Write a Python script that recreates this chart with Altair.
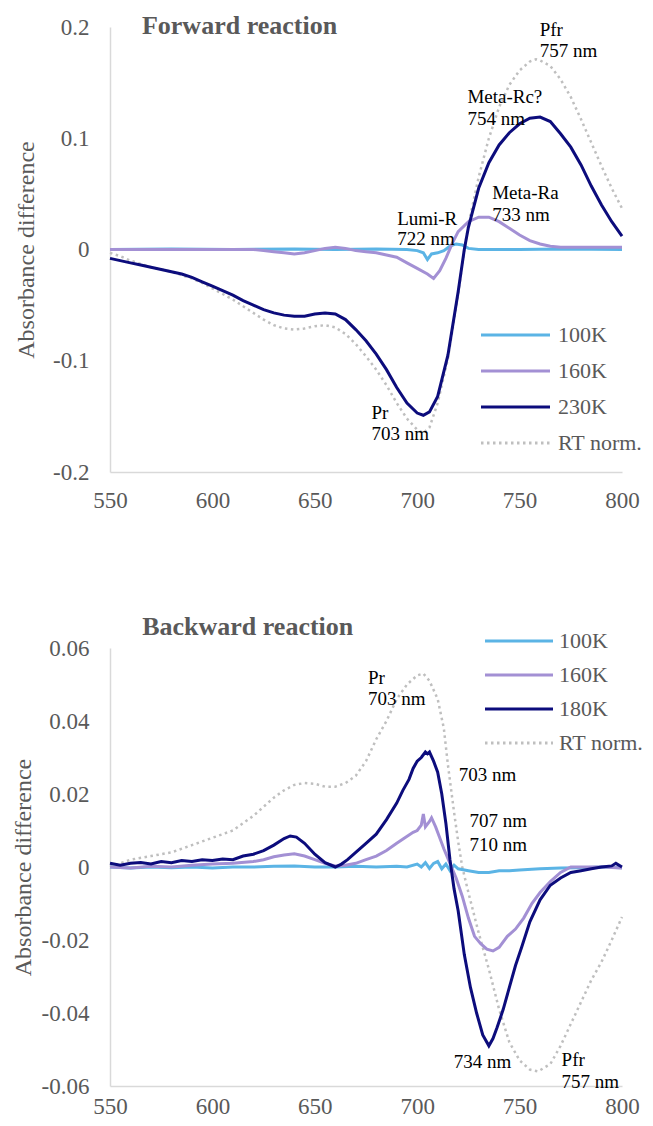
import altair as alt
import pandas as pd

FONT = "Liberation Serif"
GREY = "#595959"
COLORS = ["#5bb4e5", "#a390d4", "#0c0c7c", "#bfbfbf"]
X_TICKS = [550, 600, 650, 700, 750, 800]

# ---------------- Forward reaction ----------------
fw_names = ["100K", "160K", "230K", "RT norm."]

fw_100K_nm = [550, 580, 610, 640, 660, 680, 695, 700, 703, 705, 707, 710, 713, 716, 719, 722, 725, 730, 750, 770, 800]
fw_100K_val = [0.0, 0.0005, 0.0, 0.0005, 0.0, 0.0005, 0.0, -0.001, -0.003, -0.009, -0.004, -0.003, -0.001, 0.003,
               0.005, 0.004, 0.001, 0.0, 0.0, 0.0005, 0.0]

fw_160K_nm = [550, 580, 610, 620, 625, 630, 635, 640, 645, 650, 655, 660, 665, 670, 675, 680, 685, 690, 695, 700,
              705, 708, 711, 714, 717, 720, 725, 730, 735, 740, 745, 750, 755, 760, 765, 770, 780, 790, 800]
fw_160K_val = [0.0, 0.0, 0.0, 0.0, -0.001, -0.002, -0.003, -0.004, -0.003, -0.001, 0.001, 0.002, 0.001, -0.001,
               -0.002, -0.003, -0.005, -0.007, -0.012, -0.017, -0.022, -0.026, -0.019, -0.008, 0.005, 0.016,
               0.025, 0.029, 0.029, 0.025, 0.019, 0.013, 0.008, 0.005, 0.003, 0.002, 0.002, 0.002, 0.002]

fw_230K_nm = [550, 555, 560, 565, 570, 575, 580, 585, 590, 595, 600, 605, 610, 615, 620, 625, 630, 635, 640, 645,
              650, 655, 660, 665, 670, 675, 680, 685, 690, 695, 700, 703, 706, 710, 715, 720, 723, 725, 730, 735,
              740, 745, 750, 755, 760, 765, 770, 775, 780, 785, 790, 795, 800]
fw_230K_val = [-0.008, -0.010, -0.012, -0.014, -0.016, -0.018, -0.020, -0.022, -0.025, -0.029, -0.033, -0.037,
               -0.041, -0.046, -0.050, -0.054, -0.057, -0.059, -0.060, -0.060, -0.058, -0.057, -0.058, -0.063,
               -0.072, -0.082, -0.094, -0.108, -0.124, -0.138, -0.147, -0.149, -0.146, -0.132, -0.095, -0.038,
               0.000, 0.020, 0.055, 0.078, 0.094, 0.105, 0.113, 0.118, 0.119, 0.115, 0.104, 0.092, 0.076, 0.057,
               0.040, 0.025, 0.012]

fw_RT_nm = [550, 555, 560, 565, 570, 575, 580, 585, 590, 595, 600, 605, 610, 615, 620, 625, 630, 635, 640, 645,
            650, 655, 660, 665, 670, 675, 680, 685, 690, 695, 700, 703, 706, 710, 715, 720, 723, 725, 730, 735,
            740, 745, 750, 755, 758, 760, 765, 770, 775, 780, 785, 790, 795, 800]
fw_RT_val = [-0.003, -0.006, -0.010, -0.013, -0.016, -0.018, -0.020, -0.023, -0.026, -0.030, -0.035, -0.040,
             -0.045, -0.051, -0.057, -0.063, -0.068, -0.071, -0.072, -0.071, -0.069, -0.068, -0.070, -0.076,
             -0.085, -0.096, -0.108, -0.122, -0.138, -0.152, -0.162, -0.165, -0.160, -0.138, -0.098, -0.040,
             0.000, 0.022, 0.065, 0.100, 0.128, 0.148, 0.161, 0.169, 0.171, 0.170, 0.165, 0.153, 0.137, 0.117,
             0.096, 0.075, 0.055, 0.037]

fw_ann_text = ["Pfr", "757 nm", "Meta-Rc?", "754 nm", "Meta-Ra", "733 nm", "Lumi-R", "722 nm", "Pr", "703 nm"]
fw_ann_nm = [759.8, 759.8, 724.5, 724.5, 736.6, 736.6, 690.2, 690.2, 677.7, 677.7]
fw_ann_val = [0.1975, 0.1786, 0.1371, 0.1177, 0.0508, 0.0314, 0.0278, 0.0092, -0.147, -0.1655]

# ---------------- Backward reaction ----------------
bw_names = ["100K", "160K", "180K", "RT norm."]

bw_100K_nm = [550, 560, 570, 580, 590, 600, 610, 620, 630, 640, 650, 660, 670, 680, 690, 695, 700, 702, 704, 706,
              708, 710, 712, 714, 716, 718, 720, 725, 730, 735, 740, 745, 750, 760, 770, 780, 790, 800]
bw_100K_val = [0.0, -0.0003, 0.0, -0.0002, 0.0, -0.0003, 0.0, 0.0, 0.0002, 0.0003, 0.0, 0.0, 0.0002, 0.0,
               0.0002, 0.0, 0.0008, 0.0, 0.0012, -0.0004, 0.001, 0.0015, -0.0005, 0.0008, -0.001, 0.0005,
               -0.0005, -0.001, -0.0015, -0.0015, -0.001, -0.001, -0.0008, -0.0005, -0.0003, -0.0002, 0.0, -0.0002]

bw_160K_nm = [550, 560, 570, 580, 590, 600, 610, 620, 625, 630, 635, 640, 645, 650, 655, 660, 665, 670, 675, 680,
              685, 690, 694, 698, 700, 702, 703, 704, 706, 707, 709, 711, 713, 716, 719, 722, 725, 728, 731, 734,
              737, 740, 744, 748, 752, 756, 760, 765, 770, 775, 780, 790, 800]
bw_160K_val = [0.0, -0.0003, 0.0002, 0.0, 0.0005, 0.0008, 0.001, 0.0015, 0.002, 0.0028, 0.0033, 0.0036, 0.003,
               0.002, 0.001, 0.0003, 0.0005, 0.001, 0.002, 0.003, 0.0045, 0.0065, 0.008, 0.0095, 0.010, 0.0115,
               0.0145, 0.011, 0.0125, 0.0135, 0.011, 0.008, 0.005, 0.001, -0.003, -0.008, -0.014, -0.019, -0.021,
               -0.0225, -0.023, -0.022, -0.019, -0.017, -0.014, -0.010, -0.007, -0.004, -0.0015, 0.0, 0.0, 0.0,
               -0.0003]

bw_180K_nm = [550, 555, 560, 565, 570, 575, 580, 585, 590, 595, 600, 605, 610, 615, 620, 625, 630, 635, 638, 641,
              645, 650, 655, 660, 663, 666, 670, 675, 680, 685, 690, 693, 696, 698, 700, 702, 704, 705, 706, 708,
              710, 712, 714, 716, 718, 720, 723, 726, 729, 732, 735, 737, 739, 742, 745, 748, 751, 755, 760, 765,
              770, 775, 780, 785, 790, 795, 797, 800]
bw_180K_val = [0.001, 0.0005, 0.001, 0.0012, 0.0008, 0.0015, 0.0012, 0.0018, 0.0015, 0.002, 0.0018, 0.0022,
               0.002, 0.003, 0.0035, 0.0045, 0.006, 0.0078, 0.0085, 0.0082, 0.0065, 0.0035, 0.0012, 0.0, 0.0008,
               0.002, 0.004, 0.0065, 0.009, 0.013, 0.0175, 0.021, 0.024, 0.027, 0.029, 0.030, 0.0315, 0.031,
               0.0315, 0.029, 0.026, 0.020, 0.012, 0.002, -0.006, -0.012, -0.024, -0.033, -0.040, -0.046, -0.049,
               -0.047, -0.044, -0.039, -0.033, -0.027, -0.022, -0.015, -0.009, -0.005, -0.003, -0.0015, -0.001,
               -0.0005, 0.0, 0.0003, 0.001, 0.0]

bw_RT_nm = [550, 560, 570, 580, 590, 600, 610, 620, 630, 635, 640, 645, 650, 655, 660, 665, 670, 675, 680, 685,
            690, 695, 700, 703, 706, 710, 713, 715, 718, 720, 722, 725, 730, 735, 740, 745, 750, 755, 759, 765,
            770, 775, 780, 785, 790, 795, 800]
bw_RT_val = [0.0, 0.002, 0.003, 0.004, 0.006, 0.008, 0.010, 0.014, 0.019, 0.021, 0.0225, 0.023, 0.0228, 0.022,
             0.022, 0.023, 0.025, 0.029, 0.035, 0.040, 0.046, 0.050, 0.0525, 0.053, 0.051, 0.046, 0.038, 0.028,
             0.015, 0.007, 0.0, -0.007, -0.018, -0.028, -0.039, -0.048, -0.053, -0.0555, -0.056, -0.054, -0.049,
             -0.043, -0.037, -0.031, -0.026, -0.020, -0.0137]

bw_ann_text = ["Pr", "703 nm", "703 nm", "707 nm", "710 nm", "734 nm", "Pfr", "757 nm"]
bw_ann_nm = [676.0, 676.0, 720.3, 725.5, 725.5, 717.8, 770.5, 770.5]
bw_ann_val = [0.0518, 0.046, 0.0253, 0.0125, 0.0059, -0.0534, -0.053, -0.0589]


def long_table(names, nms, vals):
    rows = []
    for name, xs, ys in zip(names, nms, vals):
        for x, y in zip(xs, ys):
            rows.append({"series": name, "nm": x, "value": y})
    return pd.DataFrame(rows)


def panel(names, nms, vals, ydom, yticks, ndec, height, title, title_nm, title_val,
          ann_text, ann_nm, ann_val, leg_x, leg_range, title_pad, xlab_pad):
    solid = long_table(names[:3], nms[:3], vals[:3])
    dotted = long_table(names[3:], nms[3:], vals[3:])

    label_expr = (f"datum.value == 0 ? '0' : (datum.value < 0 ? '-' + format(-datum.value, '.{ndec}f')"
                  f" : format(datum.value, '.{ndec}f'))")
    xenc = alt.X("nm:Q", scale=alt.Scale(domain=[550, 800], nice=False, zero=False),
                 axis=alt.Axis(values=X_TICKS, title=None, labelPadding=xlab_pad, labelFlush=False,
                               labelOverlap=False, labelFont=FONT, labelFontSize=23, labelColor=GREY))
    yenc = alt.Y("value:Q", scale=alt.Scale(domain=ydom, nice=False, zero=False),
                 axis=alt.Axis(values=yticks, title="Absorbance difference", labelExpr=label_expr,
                               labelPadding=21, titlePadding=title_pad, labelOverlap=False,
                               labelFont=FONT, labelFontSize=23, labelColor=GREY,
                               titleFont=FONT, titleFontSize=24, titleColor=GREY,
                               titleFontWeight="normal"))
    color = alt.Color("series:N", scale=alt.Scale(domain=names, range=COLORS), legend=None)

    dotted_layer = alt.Chart(dotted).mark_line(
        color=COLORS[3], strokeWidth=2.5, strokeDash=[2.5, 3.5]).encode(x=xenc, y=yenc)
    solid_layer = alt.Chart(solid).mark_line(strokeWidth=3).encode(x=xenc, y=yenc, color=color)

    ann = pd.DataFrame({"nm": ann_nm, "value": ann_val, "label": ann_text})
    ann_layer = alt.Chart(ann).mark_text(
        align="left", baseline="middle", font=FONT, fontSize=19, color="black"
    ).encode(x="nm:Q", y="value:Q", text="label:N")

    ttl = pd.DataFrame({"nm": [title_nm], "value": [title_val], "label": [title]})
    title_layer = alt.Chart(ttl).mark_text(
        align="left", baseline="middle", font=FONT, fontSize=26, fontWeight="bold", color=GREY
    ).encode(x="nm:Q", y="value:Q", text="label:N")

    inner = alt.layer(dotted_layer, solid_layer, ann_layer, title_layer)

    legdf = pd.DataFrame({"series": names})
    ly = alt.Y("series:N", scale=alt.Scale(type="point", domain=names, range=leg_range, padding=0), axis=None)
    leg_rule = alt.Chart(legdf).mark_rule(strokeCap="butt").encode(
        x=alt.value(leg_x[0]), x2=alt.value(leg_x[1]), y=ly, color=color,
        strokeDash=alt.StrokeDash("series:N", scale=alt.Scale(
            domain=names, range=[[1, 0], [1, 0], [1, 0], [2.5, 3.5]]), legend=None),
        strokeWidth=alt.StrokeWidth("series:N", scale=alt.Scale(
            domain=names, range=[3, 3, 3, 2.5]), legend=None),
    )
    leg_text = alt.Chart(legdf).mark_text(
        align="left", baseline="middle", font=FONT, fontSize=22, color=GREY
    ).encode(x=alt.value(leg_x[2]), y=ly, text="series:N")

    return alt.layer(inner, leg_rule, leg_text).resolve_scale(y="independent").properties(
        width=512, height=height)


top = panel(fw_names, [fw_100K_nm, fw_160K_nm, fw_230K_nm, fw_RT_nm],
            [fw_100K_val, fw_160K_val, fw_230K_val, fw_RT_val],
            [-0.2, 0.2], [-0.2, -0.1, 0, 0.1, 0.2], 1, 445,
            "Forward reaction", 565.6, 0.2005,
            fw_ann_text, fw_ann_nm, fw_ann_val,
            [371, 440, 448], [308, 416], 14, 17)

bottom = panel(bw_names, [bw_100K_nm, bw_160K_nm, bw_180K_nm, bw_RT_nm],
               [bw_100K_val, bw_160K_val, bw_180K_val, bw_RT_val],
               [-0.06, 0.06], [-0.06, -0.04, -0.02, 0, 0.02, 0.04, 0.06], 2, 438,
               "Backward reaction", 565.7, 0.0657,
               bw_ann_text, bw_ann_nm, bw_ann_val,
               [375, 443, 449], [-7, 95], 6, 9)

chart = alt.vconcat(top, bottom, spacing=102).resolve_scale(
    color="independent", strokeDash="independent", strokeWidth="independent",
    x="independent", y="independent"
).properties(
    padding={"left": 3, "top": 5, "right": 0, "bottom": 0}
).configure_view(stroke=None).configure_axis(
    labelFont=FONT, labelFontSize=23, labelColor=GREY,
    titleFont=FONT, titleFontSize=24, titleColor=GREY, titleFontWeight="normal",
    domainColor="#d9d9d9", domainWidth=1.5, ticks=False, grid=False,
)

chart.save("out.html", embed_options={"renderer": "svg", "actions": False})
